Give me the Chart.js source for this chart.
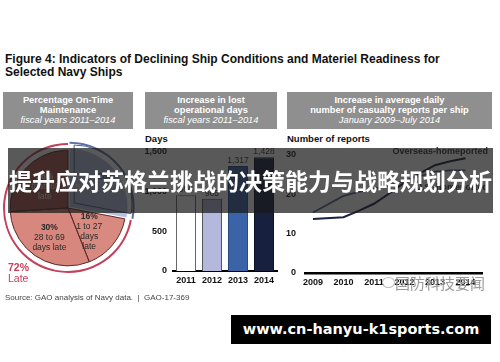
<!DOCTYPE html>
<html>
<head>
<meta charset="utf-8">
<script src="https://cdn.jsdelivr.net/npm/chart.js@4.4.0/dist/chart.umd.min.js"></script>
<style>
  body { margin: 0; width: 500px; height: 362px; background: #fff; position: relative; overflow: hidden;
         font-family: "Liberation Sans", Arial, sans-serif; }
  .abs { position: absolute; }
  #title { left: 5px; top: 53px; font-weight: bold; font-size: 12px; line-height: 13px; color: #111; }
  .hdr { position: absolute; top: 92px; height: 37px; background: #8f8f8f; color: #fff; text-align: center;
         font-size: 9.3px; line-height: 10px; font-weight: bold; padding-top: 3px; box-sizing: border-box; white-space: nowrap; }
  .hdr i { font-weight: normal; }
  .axt { position: absolute; top: 133px; font-weight: bold; font-size: 9.5px; color: #111; }
  #banner { left: 8px; top: 148px; width: 485px; height: 65px; background: rgba(25,25,25,0.72); color: #fff;
            font-family: "Noto Sans CJK SC", sans-serif; font-weight: bold; font-size: 23px; line-height: 65px;
            text-align: center; z-index: 5; white-space: nowrap; }
  #late { left: 8px; top: 262px; color: #c4405c; font-size: 10.5px; line-height: 11px; }
  #source { left: 5px; top: 293px; font-size: 8px; color: #444; white-space: pre; }
  #wm { left: 395px; top: 272px; font-family: "Noto Sans CJK SC", sans-serif; font-size: 15px; color: #9a9a9a; }
  #wmicon { left: 382px; top: 277px; width: 11px; height: 9px; border: 1px solid #bbb; border-radius: 50%; }
  #url { left: 231px; top: 315px; width: 260px; height: 29px; background: #000; color: #fff;
         font-family: "DejaVu Sans", sans-serif; font-weight: bold; font-size: 14.5px; line-height: 29px; text-align: center; }
</style>
</head>
<body>
<div id="title" class="abs">Figure 4: Indicators of Declining Ship Conditions and Materiel Readiness for<br>Selected Navy Ships</div>

<div class="hdr" style="left:3px;width:130px">Percentage On-Time<br>Maintenance<br><i>fiscal years 2011–2014</i></div>
<div class="hdr" style="left:145px;width:132px">Increase in lost<br>operational days<br><i>fiscal years 2011–2014</i></div>
<div class="hdr" style="left:287px;width:205px">Increase in average daily<br>number of casualty reports per ship<br><i>January 2009–July 2014</i></div>

<div class="axt" style="left:145px">Days</div>
<div class="axt" style="left:287px">Number of reports</div>

<canvas id="pie" class="abs" width="140" height="140" style="left:-2px;top:138px"></canvas>
<canvas id="bar" class="abs" width="145" height="150" style="left:140px;top:140px"></canvas>
<canvas id="line" class="abs" width="210" height="150" style="left:280px;top:140px"></canvas>

<div id="late" class="abs"><b>72%</b><br>Late</div>
<div id="source" class="abs">Source: GAO analysis of Navy data.  |  GAO-17-369</div>
<div id="wmicon" class="abs"></div>
<div id="wm" class="abs">国防科技要闻</div>

<div id="banner" class="abs">提升应对苏格兰挑战的决策能力与战略规划分析</div>
<div id="url" class="abs">www.cn-hanyu-k1sports.com</div>

<script>
// pie: on-time maintenance shares
var pieLabels = ["On time", "1 to 27 days late", "28 to 69 days late", "More than 69 days late"];
var pieValues = [28, 16, 30, 26];
var pieText = [["28%"], ["16%", "1 to 27", "days", "late"], ["30%", "28 to 69", "days late"], ["26%", "More than 69 days", "late"]];
var bracketValues = [28, 72];

// bars: lost operational days
var barYears = ["2011", "2012", "2013", "2014"];
var barValues = [950, 905, 1317, 1428];

// lines: casualty reports per ship
var lineYears = [2009, 2010, 2011, 2012, 2013, 2014];
var overseasX = [2009, 2010, 2010.5, 2011, 2011.5, 2012, 2012.5, 2013, 2013.5, 2014];
var overseasY = [13.7, 14.2, 15.8, 17.6, 20.2, 23.0, 25.3, 27.4, 28.4, 29.2];
var usX = [2009, 2009.5, 2010, 2010.5, 2011, 2011.5, 2012, 2012.5, 2013, 2013.5, 2014];
var usY = [15.4, 17.5, 19.6, 20.6, 21.4, 22.3, 23.4, 24.6, 25.8, 26.1, 26.1];

var boldFont = "bold 8.5px 'Liberation Sans', Arial, sans-serif";
var plainFont = "8.5px 'Liberation Sans', Arial, sans-serif";

// ---------- pie ----------
var pieLabelPlugin = {
  id: "pieLabels",
  afterDatasetsDraw(chart) {
    var ctx = chart.ctx;
    var meta = chart.getDatasetMeta(2);
    var fracs = [0.72, 0.55, 0.6, 0.55];
    var colors = ["#4a5f9c", "#2a2a2a", "#2a2a2a", "#f2e6e4"];
    meta.data.forEach(function (arc, i) {
      var p = arc.getProps(["x", "y", "startAngle", "endAngle", "outerRadius"], true);
      var mid = (p.startAngle + p.endAngle) / 2;
      if (i === 1) mid += 0.15;
      var off = arc.options.offset || 0;
      var r = p.outerRadius * fracs[i] + off;
      var cx = p.x + Math.cos(mid) * r;
      var cy = p.y + Math.sin(mid) * r;
      var lines = pieText[i];
      var top = cy - (lines.length - 1) * 10 / 2;
      ctx.save();
      ctx.fillStyle = colors[i];
      ctx.textAlign = "center";
      ctx.textBaseline = "middle";
      lines.forEach(function (t, j) {
        ctx.font = j === 0 ? boldFont : plainFont;
        ctx.fillText(t, cx, top + j * 10);
      });
      ctx.restore();
    });
  }
};

new Chart(document.getElementById("pie"), {
  type: "pie",
  data: {
    labels: pieLabels,
    datasets: [
      {
        // outer brackets (on time / late)
        data: bracketValues,
        backgroundColor: ["#5a6fa8", "#c4405c"],
        borderWidth: 0,
        offset: [8, 0],
        weight: 2
      },
      {
        data: bracketValues,
        backgroundColor: "rgba(0,0,0,0)",
        borderWidth: 0,
        offset: [8, 0],
        weight: 5
      },
      {
        data: pieValues,
        backgroundColor: ["#b8bfdf", "#d98a80", "#d7877d", "#a9574e"],
        borderWidth: 0,
        offset: [8, 0, 0, 0],
        weight: 57
      }
    ]
  },
  options: {
    responsive: false,
    animation: false,
    layout: { padding: 1 },
    elements: { arc: { borderWidth: 0 } },
    plugins: { legend: { display: false }, tooltip: { enabled: false } }
  },
  plugins: [pieLabelPlugin, {
    id: "pieEdges",
    afterDatasetDraw(chart, args) {
      if (args.index !== 2) return;
      // thin outlines on the pie slices
      var ctx = chart.ctx;
      var meta = chart.getDatasetMeta(2);
      var strokes = ["#4c5c8e", "#5c2c28", "#5c2c28", "#5c2c28"];
      meta.data.forEach(function (arc, i) {
        var p = arc.getProps(["x", "y", "startAngle", "endAngle", "outerRadius"], true);
        var off = arc.options.offset || 0;
        var mid = (p.startAngle + p.endAngle) / 2;
        var x = p.x + Math.cos(mid) * off, y = p.y + Math.sin(mid) * off;
        ctx.save();
        ctx.strokeStyle = strokes[i];
        ctx.lineWidth = 1;
        ctx.beginPath();
        ctx.moveTo(x, y);
        ctx.arc(x, y, p.outerRadius, p.startAngle, p.endAngle);
        ctx.closePath();
        ctx.stroke();
        ctx.restore();
      });
    }
  }]
});

// ---------- bars ----------
var barValuePlugin = {
  id: "barValues",
  afterDatasetsDraw(chart) {
    var ctx = chart.ctx;
    var meta = chart.getDatasetMeta(0);
    ctx.save();
    ctx.font = "8.5px 'Liberation Sans', Arial, sans-serif";
    ctx.fillStyle = "#333";
    ctx.textAlign = "center";
    ctx.textBaseline = "bottom";
    meta.data.forEach(function (bar, i) {
      ctx.fillText(barValues[i].toLocaleString("en-US"), bar.x, bar.y - 1);
    });
    ctx.restore();
  }
};

new Chart(document.getElementById("bar"), {
  type: "bar",
  data: {
    labels: barYears,
    datasets: [{
      data: barValues,
      backgroundColor: ["#ffffff", "#b4b8dc", "#3a63a8", "#17213f"],
      borderColor: ["#666", "#555", "#2b4a80", "#0e1428"],
      borderWidth: 1,
      barPercentage: 0.77,
      categoryPercentage: 1
    }]
  },
  options: {
    responsive: false,
    animation: false,
    layout: { padding: { left: 0, right: 8, top: 11, bottom: 0 } },
    plugins: { legend: { display: false }, tooltip: { enabled: false } },
    scales: {
      x: {
        grid: { display: false, drawTicks: false },
        border: { display: true, color: "#000", width: 2 },
        ticks: {
          color: "#111",
          font: { family: "'Liberation Sans', Arial", size: 9, weight: "bold" },
          padding: 4,
          maxRotation: 0,
          minRotation: 0,
          autoSkip: false
        },
        afterFit: function (s) { s.height = 19; }
      },
      y: {
        min: 0,
        max: 1500,
        grid: { display: false, drawTicks: false },
        border: { display: false },
        ticks: {
          stepSize: 500,
          padding: 6,
          color: "#111",
          font: { family: "'Liberation Sans', Arial", size: 9, weight: "bold" },
          callback: function (v) { return v.toLocaleString("en-US"); }
        },
        afterFit: function (s) { s.width = 33; }
      }
    }
  },
  plugins: [barValuePlugin]
});

// ---------- lines ----------
var lineNotePlugin = {
  id: "lineNotes",
  afterDatasetsDraw(chart) {
    var ctx = chart.ctx;
    var right = chart.chartArea.right + 6;
    var ys = chart.scales.y;
    ctx.save();
    ctx.font = "bold 9px 'Liberation Sans', Arial, sans-serif";
    ctx.fillStyle = "#333";
    ctx.textAlign = "right";
    ctx.textBaseline = "middle";
    ctx.fillText("Overseas-homeported", right, ys.getPixelForValue(overseasY[overseasY.length - 1]) - 7);
    ctx.fillText("U.S.-homeported", right, ys.getPixelForValue(usY[usY.length - 1]) + 17);
    ctx.restore();
  }
};

new Chart(document.getElementById("line"), {
  type: "line",
  data: {
    datasets: [
      {
        label: "Overseas-homeported",
        data: overseasX.map(function (x, i) { return { x: x, y: overseasY[i] }; }),
        borderColor: "#1b2140",
        borderWidth: 2,
        pointRadius: 0,
        tension: 0
      },
      {
        label: "U.S.-homeported",
        data: usX.map(function (x, i) { return { x: x, y: usY[i] }; }),
        borderColor: "#56648f",
        borderWidth: 1.8,
        pointRadius: 0,
        tension: 0
      }
    ]
  },
  options: {
    responsive: false,
    animation: false,
    layout: { padding: { left: 0, right: 8, top: 15, bottom: 0 } },
    plugins: { legend: { display: false }, tooltip: { enabled: false } },
    scales: {
      x: {
        type: "linear",
        min: 2008.74,
        max: 2014.54,
        grid: { display: false, drawTicks: false },
        border: { display: true, color: "#000", width: 2.5 },
        afterBuildTicks: function (s) { s.ticks = lineYears.map(function (v) { return { value: v }; }); },
        ticks: {
          color: "#111",
          padding: 4,
          maxRotation: 0,
          minRotation: 0,
          autoSkip: false,
          font: { family: "'Liberation Sans', Arial", size: 9, weight: "bold" },
          callback: function (v) { return String(v); }
        },
        afterFit: function (s) { s.height = 17; }
      },
      y: {
        min: 0,
        max: 30,
        grid: { display: false, drawTicks: false },
        border: { display: false },
        ticks: {
          stepSize: 10,
          padding: 9,
          color: "#111",
          font: { family: "'Liberation Sans', Arial", size: 9, weight: "bold" }
        },
        afterFit: function (s) { s.width = 25; }
      }
    }
  },
  plugins: [lineNotePlugin]
});
</script>
</body>
</html>
